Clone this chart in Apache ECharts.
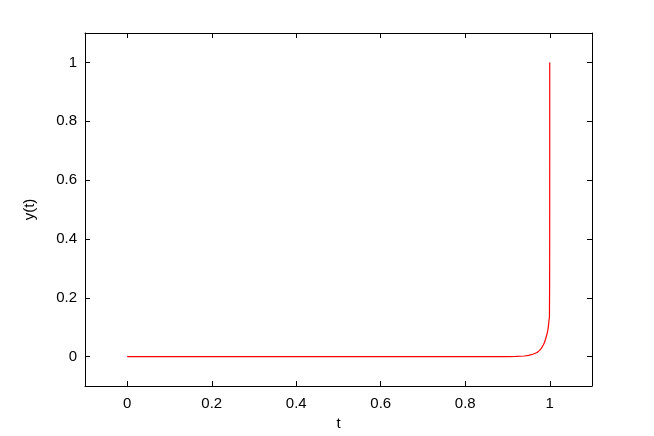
<!DOCTYPE html>
<html>
<head>
<meta charset="utf-8">
<script src="https://cdn.jsdelivr.net/npm/echarts@6/dist/echarts.min.js"></script>
<style>
  html, body { margin: 0; padding: 0; background: #fff; }
  #chart { width: 654px; height: 436px; }
</style>
</head>
<body>
<div id="chart"></div>
<script>
// valeurs
var tValues = [0, 0.2, 0.4, 0.6, 0.8, 0.9, 0.92, 0.94, 0.95, 0.96, 0.97, 0.976, 0.98, 0.985,
  0.9875, 0.99, 0.993, 0.9953, 0.997, 0.998, 0.999, 0.9993, 0.9997, 0.9999, 1];
var yValues = [0, 0, 0, 0, 0, 0, 0.0005, 0.002, 0.004, 0.008, 0.014, 0.021, 0.028, 0.04,
  0.048, 0.059, 0.074, 0.088, 0.105, 0.12, 0.132, 0.139, 0.25, 0.45, 1];
var tickLabels = [0, 0.2, 0.4, 0.6, 0.8, 1];

var points = tValues.map(function (t, i) {
  return [t, yValues[i]];
});

var font = "Liberation Sans";

var chart = echarts.init(document.getElementById("chart"));

function makeAxis(position, withLabels) {
  return {
    type: "value",
    position: position,
    min: -0.1,
    max: 1.1,
    interval: 0.1,
    axisLine: { show: true, onZero: false, lineStyle: { color: "#000", width: 1 } },
    splitLine: { show: false },
    axisTick: {
      show: true, inside: true, length: 5,
      customValues: tickLabels,
      lineStyle: { color: "#000" },
    },
    axisLabel: {
      show: withLabels,
      color: "#000", fontSize: 15, fontFamily: font,
      margin: position === "bottom" ? 10 : 8,
      customValues: tickLabels,
      formatter: function (v) { return String(v); },
    },
  };
}

var xBottom = makeAxis("bottom", true);
xBottom.name = "t";
xBottom.nameLocation = "middle";
xBottom.nameGap = 30;
xBottom.nameTextStyle = { color: "#000", fontSize: 15, fontFamily: font };

var yLeft = makeAxis("left", true);
yLeft.name = "y(t)";
yLeft.nameLocation = "middle";
yLeft.nameGap = 48;
yLeft.nameRotate = 90;
yLeft.nameTextStyle = { color: "#000", fontSize: 15, fontFamily: font };

var option = {
  animation: false,
  backgroundColor: "#fff",
  grid: { left: 85, right: 62, top: 33, bottom: 49, containLabel: false },
  xAxis: [xBottom, makeAxis("top", false)],
  yAxis: [yLeft, makeAxis("right", false)],
  series: [
    {
      type: "line",
      data: points,
      xAxisIndex: 0,
      yAxisIndex: 0,
      smooth: false,
      showSymbol: false,
      lineStyle: { color: "#ff0000", width: 1.2 },
    },
  ],
};

chart.setOption(option);
</script>
</body>
</html>
